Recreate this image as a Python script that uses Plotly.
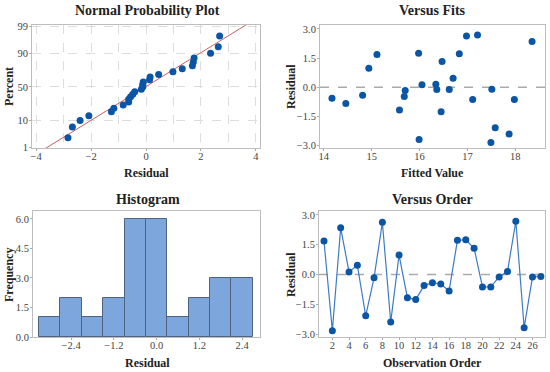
import plotly.graph_objects as go
from statistics import NormalDist, mean, stdev

# ---- data ----
observation_order = list(range(1, 28))
residuals = [1.69, -2.84, 2.35, 0.13, 0.46, -2.08, -0.17, 2.63, -2.40, 0.98,
             -1.17, -1.26, -0.56, -0.41, -0.48, -0.83, 1.72, 1.75, 1.32, -0.63,
             -0.63, -0.12, 0.15, 2.68, -2.68, -0.12, -0.10]
fitted_values = [15.11, 17.49, 18.35, 16.05, 16.70, 17.58, 15.70, 16.98, 17.87, 14.94,
                 15.58, 16.45, 14.17, 14.81, 15.68, 14.46, 16.83, 15.98, 16.47, 17.11,
                 17.98, 16.36, 16.34, 17.21, 15.99, 16.62, 17.51]
percent_ticks = [1, 10, 50, 90, 99]
hist_ticks = [-2.4, -1.2, 0.0, 1.2, 2.4]
order_ticks = list(range(2, 27, 2))
resid_ticks = [-3.0, -1.5, 0.0, 1.5, 3.0]
freq_ticks = [0.0, 1.5, 3.0, 4.5, 6.0]

# ---- derived (normal probability positions, Minitab median ranks) ----
nd = NormalDist()
n = len(residuals)
sorted_res = sorted(residuals)
z_pos = [nd.inv_cdf((i + 1 - 0.3) / (n + 0.4)) for i in range(n)]
mu, sd = mean(residuals), stdev(residuals)
line_z = [-2.6, 2.6]
line_x = [mu + z * sd for z in line_z]

BLUE = "#0B55A5"
FONT = "Liberation Serif"
TICKC = "#444444"
BORDER = "#BDBDBD"

W, H = 550, 372
def px_x(a, b):
    return [a / W, b / W]
def px_y(top, bot):
    return [1 - bot / H, 1 - top / H]

fig = go.Figure()

# Panel 1: normal probability
fig.add_trace(go.Scatter(x=line_x, y=line_z, mode="lines",
                         line=dict(color="#C8605C", width=1), xaxis="x", yaxis="y",
                         showlegend=False, hoverinfo="skip"))
fig.add_trace(go.Scatter(x=sorted_res, y=z_pos, mode="markers",
                         marker=dict(color=BLUE, size=7), xaxis="x", yaxis="y",
                         showlegend=False))
# Panel 2: versus fits
fig.add_trace(go.Scatter(x=fitted_values, y=residuals, mode="markers",
                         marker=dict(color=BLUE, size=7), xaxis="x2", yaxis="y2",
                         showlegend=False))
# Panel 3: histogram
fig.add_trace(go.Histogram(x=residuals, xbins=dict(start=-3.3, end=2.7, size=0.6),
                           marker=dict(color="#7CA6DC", line=dict(color="#4E6282", width=1)),
                           xaxis="x3", yaxis="y3", showlegend=False))
# Panel 4: versus order
fig.add_trace(go.Scatter(x=observation_order, y=residuals, mode="lines+markers",
                         line=dict(color="#3E7BC4", width=1.2),
                         marker=dict(color=BLUE, size=7), xaxis="x4", yaxis="y4",
                         showlegend=False))

tickfont = dict(family=FONT, size=10.5, color=TICKC)
common = dict(showline=True, linecolor=BORDER, linewidth=1, mirror=True,
              ticks="outside", ticklen=2, tickcolor="#AAAAAA", tickfont=tickfont,
              zeroline=False, automargin=False)
xc = dict(common, ticklabelstandoff=-4)
yc = dict(common, ticklabelstandoff=-1)

grid = dict(showgrid=True, gridcolor="#DDDDDD", griddash="dash", gridwidth=1)

fig.update_layout(
    width=W, height=H, margin=dict(l=0, r=0, t=0, b=0, autoexpand=False),
    plot_bgcolor="white", paper_bgcolor="white", bargap=0,
    xaxis=dict(domain=px_x(32, 260), range=[-4.15, 4.15], tickvals=[-4, -2, 0, 2, 4],
               minor=dict(dtick=1, tick0=0, showgrid=True, gridcolor="#DDDDDD",
                          griddash="dash", ticks=""),
               anchor="y", **grid, **xc),
    yaxis=dict(domain=px_y(25, 148), range=[-2.34, 2.37],
               tickvals=[nd.inv_cdf(p / 100) for p in percent_ticks],
               ticktext=[str(p) for p in percent_ticks],
               anchor="x", **grid, **yc),
    xaxis2=dict(domain=px_x(320, 545), range=[13.92, 18.62], tickvals=[14, 15, 16, 17, 18],
                anchor="y2", showgrid=False, **xc),
    yaxis2=dict(domain=px_y(25, 148), range=[-3.12, 3.2], tickvals=resid_ticks,
                tickformat=".1f", anchor="x2", showgrid=False, **yc),
    xaxis3=dict(domain=px_x(33, 260), range=[-3.47, 2.9], tickvals=hist_ticks,
                tickformat=".1f", anchor="y3", showgrid=False, **xc),
    yaxis3=dict(domain=px_y(211, 337), range=[0, 6.4], tickvals=freq_ticks,
                tickformat=".1f", anchor="x3", showgrid=False, **yc),
    xaxis4=dict(domain=px_x(319, 545), range=[0.4, 27.5], tickvals=order_ticks,
                anchor="y4", showgrid=False, **xc),
    yaxis4=dict(domain=px_y(211, 337), range=[-3.15, 3.2], tickvals=resid_ticks,
                tickformat=".1f", anchor="x4", showgrid=False, **yc),
)

# zero reference lines
for xa, ya in [("x2", "y2"), ("x4", "y4")]:
    fig.add_shape(type="line", xref=f"{xa} domain", yref=ya, x0=0, x1=1, y0=0, y1=0,
                  line=dict(color="#AAAAAA", width=1.5, dash="dash"), layer="below")

titles = [("Normal Probability Plot", 147, 11), ("Versus Fits", 432, 11),
          ("Histogram", 148, 199), ("Versus Order", 432, 199)]
for text, x, y in titles:
    fig.add_annotation(text=f"<b>{text}</b>", x=x / W, y=1 - y / H, xref="paper", yref="paper",
                       showarrow=False, xanchor="center", yanchor="middle",
                       font=dict(family=FONT, size=14, color="#222222"))

xtitles = [("Residual", 146, 173), ("Fitted Value", 432, 173),
           ("Residual", 147, 363), ("Observation Order", 432, 363)]
for text, x, y in xtitles:
    fig.add_annotation(text=f"<b>{text}</b>", x=x / W, y=1 - y / H, xref="paper", yref="paper",
                       showarrow=False, xanchor="center", yanchor="middle",
                       font=dict(family=FONT, size=12, color="#222222"))

ytitles = [("Percent", 9, 87), ("Residual", 291, 87),
           ("Frequency", 9, 275), ("Residual", 291, 275)]
for text, x, y in ytitles:
    fig.add_annotation(text=f"<b>{text}</b>", x=x / W, y=1 - y / H, xref="paper", yref="paper",
                       showarrow=False, xanchor="center", yanchor="middle", textangle=-90,
                       font=dict(family=FONT, size=12, color="#222222"))

fig.write_html("out.html", config={"displayModeBar": False},
               post_script="document.body.style.margin='0';")
